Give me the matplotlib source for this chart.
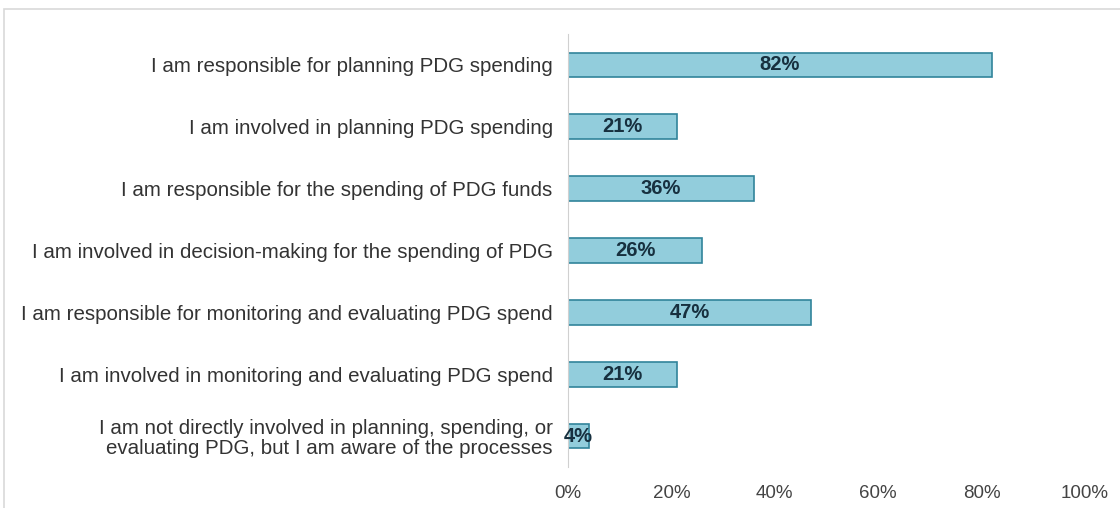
import matplotlib.pyplot as plt
from matplotlib.patches import Rectangle
from matplotlib.ticker import PercentFormatter

plt.rcParams['font.family'] = ['Liberation Sans', 'DejaVu Sans']

categories = [
    "I am responsible for planning PDG spending",
    "I am involved in planning PDG spending",
    "I am responsible for the spending of PDG funds",
    "I am involved in decision-making for the spending of PDG",
    "I am responsible for monitoring and evaluating PDG spend",
    "I am involved in monitoring and evaluating PDG spend",
    "I am not directly involved in planning, spending, or\nevaluating PDG, but I am aware of the processes",
]
values = [82, 21, 36, 26, 47, 21, 4]
xticks = [0, 20, 40, 60, 80, 100]

fig = plt.figure(figsize=(11.2, 5.08), dpi=100)
fig.patches.append(Rectangle((4 / 1120, -0.1), 1.2, 1 - 9 / 508 + 0.1, transform=fig.transFigure,
                             fill=False, edgecolor="#d9d9d9", linewidth=1.2))
ax = fig.add_axes([568 / 1120, 1 - 467 / 508, 517 / 1120, 433 / 508])

y = list(range(len(categories)))
bars = ax.barh(y, values, height=0.4, color="#92CDDC", edgecolor="#31849B", linewidth=1.2)
for b, v in zip(bars, values):
    ax.text(v / 2, b.get_y() + b.get_height() / 2, f"{v}%", ha="center", va="center",
            fontsize=14.5, fontweight="bold", color="#17303f")

ax.set_yticks(y)
ax.set_yticklabels(categories, fontsize=14.8, color="#333333", linespacing=1.05)
ax.set_xticks(xticks)
ax.xaxis.set_major_formatter(PercentFormatter(decimals=0))
ax.set_xlim(0, 100)
ax.set_ylim(len(categories) - 0.5, -0.5)
ax.tick_params(axis="x", length=0, labelsize=13.5, labelcolor="#444444", pad=13)
ax.tick_params(axis="y", length=0, pad=11)
for s in ["top", "right", "bottom"]:
    ax.spines[s].set_visible(False)
ax.spines["left"].set_color("#d0d0d0")

fig.savefig("out.png", dpi=100)
